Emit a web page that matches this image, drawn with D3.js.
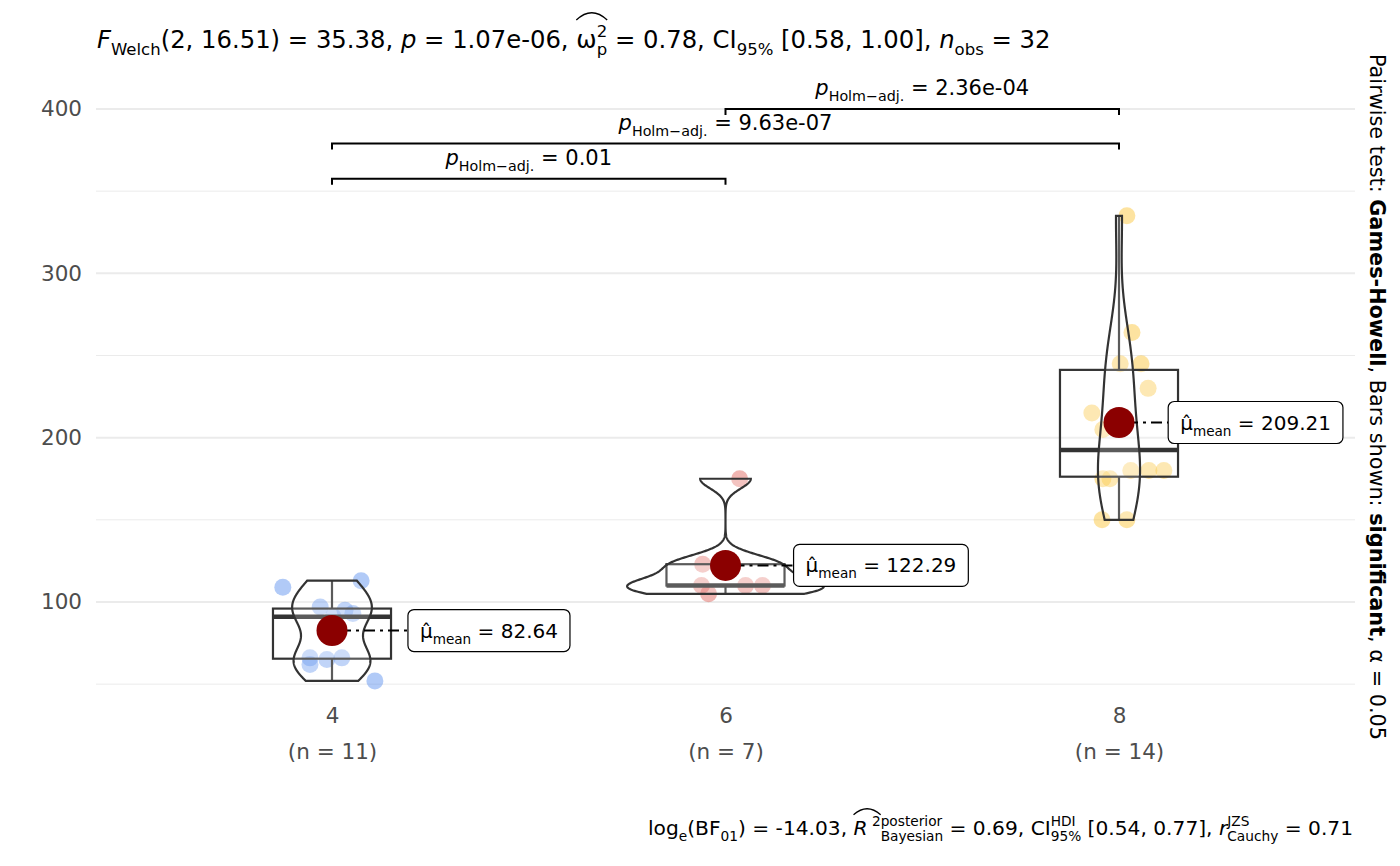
<!DOCTYPE html>
<html>
<head>
<meta charset="utf-8">
<script src="https://cdn.jsdelivr.net/npm/d3@7"></script>
<style>
  body { margin: 0; background: #fff; }
  text { font-family: "DejaVu Sans", sans-serif; white-space: pre; }
</style>
</head>
<body>
<div id="chart"></div>
<script>
// mtcars: horsepower by number of cylinders
const categories = ["4", "6", "8"];
const groupSizes = [11, 7, 14];

const hp4 = [93, 62, 95, 66, 52, 65, 97, 66, 91, 113, 109];
const hp6 = [110, 110, 110, 105, 123, 123, 175];
const hp8 = [175, 245, 180, 180, 180, 205, 215, 230, 150, 150, 245, 175, 264, 335];

// horizontal jitter of each point, in category units
const jit4 = [0.053, -0.056, 0.033, -0.056, 0.109, -0.013, -0.030, 0.025, 0.003, 0.074, -0.125];
const jit6 = [-0.061, 0.051, 0.094, -0.043, -0.058, -0.008, 0.036];
const jit8 = [-0.041, 0.003, 0.030, 0.076, 0.114, -0.041, -0.069, 0.074, -0.043, 0.020, 0.056, -0.023, 0.033, 0.020];

const pairA = ["4", "4", "6"];
const pairB = ["6", "8", "8"];
const pairP = ["0.01", "9.63e-07", "2.36e-04"];
const pairLevel = [357.5, 379, 400];

const yMajor = [100, 200, 300, 400];
const yMinor = [50, 150, 250, 350];

const groups = [hp4, hp6, hp8];
const jitters = [jit4, jit6, jit8];
const pointColors = ["#3B7BEA", "#D9473C", "#F9B812"];
const labelNudge = [0.193, 0.173, 0.125];

const W = 1400, H = 866;
const svg = d3.select("#chart").append("svg").attr("width", W).attr("height", H);

const panel = { left: 96, right: 1355, top: 76, bottom: 700 };
const x = d3.scalePoint().domain(categories).range([332, 1119]);
const unit = x.step();
const y = d3.scaleLinear().domain([100, 400]).range([602, 109]);

// rich text helper: segments laid out one after another
function rich(parent, segs, size, anchor, hatY) {
  const g = parent.append("g");
  let cx = 0;
  let hat = null;
  const small = size * 0.68;
  segs.forEach(s => {
    if (typeof s === "string") s = { t: s };
    let w;
    if (s.stack) {
      const a = g.append("text").attr("x", cx).attr("y", -size * 0.45).attr("font-size", small).text(s.stack[0]);
      const b = g.append("text").attr("x", cx).attr("y", size * 0.3).attr("font-size", small).text(s.stack[1]);
      w = Math.max(a.node().getComputedTextLength(), b.node().getComputedTextLength());
    } else {
      const dy = s.sub ? size * 0.3 : s.sup ? -size * 0.45 : 0;
      const t = g.append("text").attr("x", cx).attr("y", dy)
        .attr("font-size", (s.sub || s.sup) ? small : size)
        .attr("font-style", s.it ? "italic" : null)
        .attr("font-weight", s.b ? "bold" : null)
        .text(s.t);
      w = t.node().getComputedTextLength();
    }
    if (s.hat) {
      if (!hat) hat = [cx, cx + w];
      else hat[1] = cx + w;
    }
    cx += w;
  });
  if (hat) {
    const hb = -size * (hatY || 1.05), hp = hb - size * 0.3;
    const mid = (hat[0] + hat[1]) / 2;
    g.append("path")
      .attr("d", `M${hat[0]},${hb} Q${hat[0] + (mid - hat[0]) * 0.5},${hp} ${mid},${hp} Q${hat[1] - (hat[1] - mid) * 0.5},${hp} ${hat[1]},${hb}`)
      .attr("fill", "none").attr("stroke", "#000").attr("stroke-width", 1.3);
  }
  if (anchor === "middle") g.attr("transform", `translate(${-cx / 2},0)`);
  if (anchor === "end") g.attr("transform", `translate(${-cx},0)`);
  return cx;
}

// grid
svg.append("g").selectAll("line").data(yMinor).join("line")
  .attr("x1", panel.left).attr("x2", panel.right)
  .attr("y1", d => y(d)).attr("y2", d => y(d))
  .attr("stroke", "#EBEBEB").attr("stroke-width", 1);
svg.append("g").selectAll("line").data(yMajor).join("line")
  .attr("x1", panel.left).attr("x2", panel.right)
  .attr("y1", d => y(d)).attr("y2", d => y(d))
  .attr("stroke", "#EBEBEB").attr("stroke-width", 2);

// axes
const yAxis = svg.append("g").attr("transform", `translate(${panel.left},0)`)
  .call(d3.axisLeft(y).tickValues(yMajor).tickSize(0).tickPadding(14));
yAxis.select(".domain").remove();
yAxis.selectAll("text").attr("font-size", 21.5).attr("fill", "#4D4D4D").attr("font-family", "DejaVu Sans");

const xAxis = svg.append("g").attr("transform", `translate(0,${panel.bottom})`)
  .call(d3.axisBottom(x).tickSize(0).tickPadding(8));
xAxis.select(".domain").remove();
xAxis.selectAll(".tick text").each(function (d, i) {
  const t = d3.select(this).text(null).attr("font-size", 21.5).attr("fill", "#4D4D4D").attr("font-family", "DejaVu Sans");
  t.append("tspan").attr("x", 0).text(d);
  t.append("tspan").attr("x", 0).attr("dy", "1.68em").text(`(n = ${groupSizes[i]})`);
});

// jittered points
groups.forEach((vals, gi) => {
  svg.append("g").selectAll("circle").data(vals).join("circle")
    .attr("cx", (d, i) => x(categories[gi]) + jitters[gi][i] * unit)
    .attr("cy", d => y(d))
    .attr("r", 8.5)
    .attr("fill", pointColors[gi])
    .attr("fill-opacity", 0.4);
});

// boxplots
groups.forEach((vals, gi) => {
  const s = vals.slice().sort(d3.ascending);
  const q1 = d3.quantile(s, 0.25), med = d3.quantile(s, 0.5), q3 = d3.quantile(s, 0.75);
  const iqr = q3 - q1;
  const lo = d3.min(s.filter(v => v >= q1 - 1.5 * iqr));
  const hi = d3.max(s.filter(v => v <= q3 + 1.5 * iqr));
  const cx = x(categories[gi]), hw = 0.15 * unit;
  const g = svg.append("g").attr("stroke", "#333").attr("stroke-width", 2.2);
  g.append("line").attr("x1", cx).attr("x2", cx).attr("y1", y(q3)).attr("y2", y(hi));
  g.append("line").attr("x1", cx).attr("x2", cx).attr("y1", y(q1)).attr("y2", y(lo));
  g.append("rect").attr("x", cx - hw).attr("width", 2 * hw)
    .attr("y", y(q3)).attr("height", y(q1) - y(q3))
    .attr("fill", "#fff").attr("fill-opacity", 0.2);
  g.append("line").attr("x1", cx - hw).attr("x2", cx + hw).attr("y1", y(med)).attr("y2", y(med))
    .attr("stroke-width", 4.5);
});

// violins (gaussian KDE, bw.nrd0, trimmed, area-scaled)
function bwNrd0(v) {
  const s = v.slice().sort(d3.ascending);
  const iqr = d3.quantile(s, 0.75) - d3.quantile(s, 0.25);
  const lo = Math.min(d3.deviation(s), iqr / 1.34);
  return 0.9 * lo * Math.pow(v.length, -0.2);
}
const dens = groups.map(vals => {
  const bw = bwNrd0(vals);
  const [mn, mx] = d3.extent(vals);
  return d3.range(0, 257).map(i => {
    const v = mn + (mx - mn) * i / 256;
    const d = d3.mean(vals, u => Math.exp(-0.5 * ((v - u) / bw) ** 2)) / (bw * Math.sqrt(2 * Math.PI));
    return { v, d };
  });
});
const maxD = d3.max(dens, ds => d3.max(ds, e => e.d));
const vw = d3.scaleLinear().domain([0, maxD]).range([0, 0.25 * unit]);
dens.forEach((ds, gi) => {
  const cx = x(categories[gi]);
  svg.append("path").datum(ds)
    .attr("d", d3.area().y(e => y(e.v)).x0(e => cx - vw(e.d)).x1(e => cx + vw(e.d)))
    .attr("fill", "#fff").attr("fill-opacity", 0.2)
    .attr("stroke", "#333").attr("stroke-width", 2.2);
});

// means with labels
groups.forEach((vals, gi) => {
  const m = d3.mean(vals);
  const cx = x(categories[gi]), cy = y(m);
  const lx = cx + labelNudge[gi] * unit;
  svg.append("line").attr("x1", cx).attr("x2", lx).attr("y1", cy).attr("y2", cy)
    .attr("stroke", "#000").attr("stroke-width", 2).attr("stroke-dasharray", "3,5,11,5");
  svg.append("circle").attr("cx", cx).attr("cy", cy).attr("r", 15.5).attr("fill", "#8B0000");
  const lg = svg.append("g");
  const rect = lg.append("rect");
  const tg = lg.append("g").attr("transform", `translate(${lx + 12},${cy + 7})`);
  const w = rich(tg, ["\u03BC\u0302", { t: "mean", sub: true }, ` = ${d3.format(".2f")(m)}`], 20);
  rect.attr("x", lx).attr("y", cy - 21).attr("width", w + 24).attr("height", 42)
    .attr("rx", 6).attr("fill", "#fff").attr("stroke", "#000").attr("stroke-width", 1.2);
});

// significance brackets
pairA.forEach((a, i) => {
  const xa = x(a), xb = x(pairB[i]), yb = y(pairLevel[i]);
  svg.append("path")
    .attr("d", `M${xa},${yb + 6}V${yb}H${xb}V${yb + 6}`)
    .attr("fill", "none").attr("stroke", "#000").attr("stroke-width", 2);
  const g = svg.append("g").attr("transform", `translate(${(xa + xb) / 2},${yb - 14})`);
  rich(g, [{ t: "p", it: true }, { t: "Holm\u2212adj.", sub: true }, ` = ${pairP[i]}`], 21, "middle");
});

// title
const title = svg.append("g").attr("transform", "translate(97,48)");
rich(title, [
  { t: "F", it: true }, { t: "Welch", sub: true }, "(2, 16.51) = 35.38, ",
  { t: "p", it: true }, " = 1.07e-06, ",
  { t: "\u03C9", hat: true }, { stack: ["2", "p"], hat: true },
  " = 0.78, CI", { t: "95%", sub: true }, " [0.58, 1.00], ",
  { t: "n", it: true }, { t: "obs", sub: true }, " = 32"
], 24.3, "start", 1.15);

// caption
const cap = svg.append("g").attr("transform", "translate(1353,835)");
rich(cap, [
  "log", { t: "e", sub: true }, "(BF", { t: "01", sub: true }, ") = -14.03, ",
  { t: "R", it: true, hat: true }, { t: " 2", sup: true, hat: true },
  { stack: ["posterior", "Bayesian"] }, " = 0.69, CI", { stack: ["HDI", "95%"] },
  " [0.54, 0.77], ", { t: "r", it: true }, { stack: ["JZS", "Cauchy"] }, " = 0.71"
], 20.2, "end", 1.0);

// right-side pairwise note
const side = svg.append("g").attr("transform", "translate(1370,397) rotate(90)");
rich(side, [
  "Pairwise test: ", { t: "Games-Howell", b: true }, ", Bars shown: ",
  { t: "significant", b: true }, ", \u03B1 = 0.05"
], 20.8, "middle");
</script>
</body>
</html>
